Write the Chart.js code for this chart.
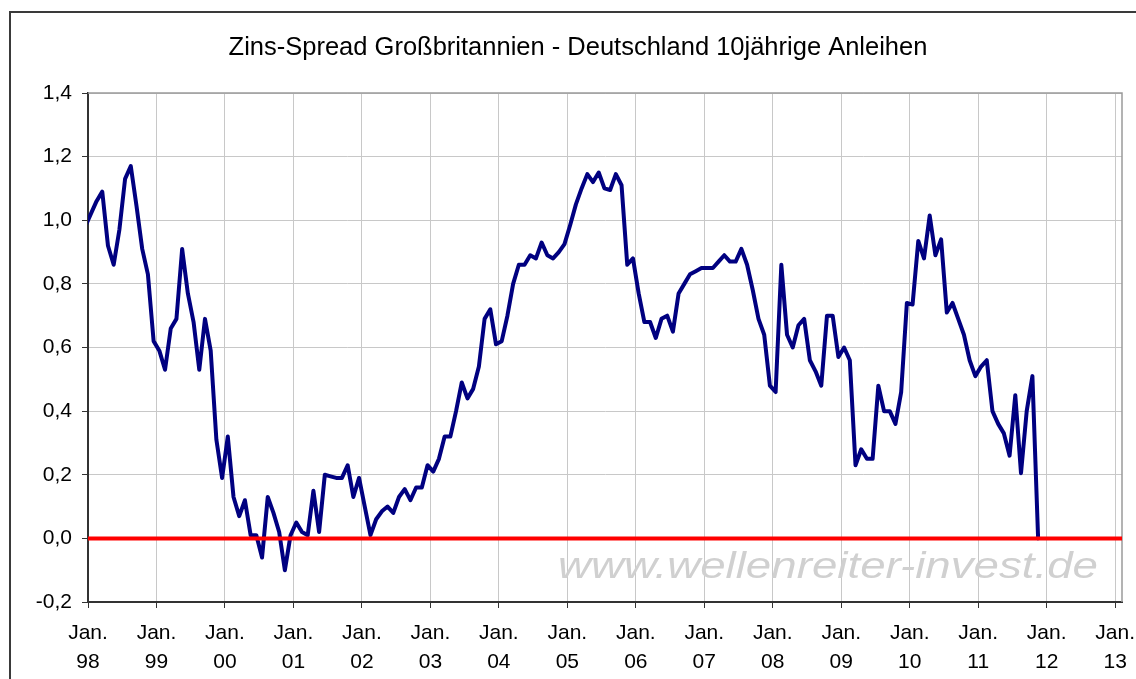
<!DOCTYPE html>
<html>
<head>
<meta charset="utf-8">
<script src="https://cdn.jsdelivr.net/npm/chart.js@4.4.0/dist/chart.umd.min.js"></script>
<style>
html,body{margin:0;padding:0;background:#fff;overflow:hidden;}
canvas{display:block;}
</style>
</head>
<body>
<canvas id="c" width="1136" height="679"></canvas>
<script>
const chartTitle = 'Zins-Spread Großbritannien - Deutschland 10jährige Anleihen';
const watermark = 'www.wellenreiter-invest.de';
const yearLabels = ['98','99','00','01','02','03','04','05','06','07','08','09','10','11','12','13'];
const yTickValues = [-0.2, 0, 0.2, 0.4, 0.6, 0.8, 1.0, 1.2, 1.4];
// monthly spread (percentage points), first entry = Dec 1997, last = Nov 2011
const spreadDec97 = [0.98];
const spread1998 = [1.02, 1.06, 1.09, 0.92, 0.86, 0.97, 1.13, 1.17, 1.045, 0.91, 0.83, 0.62];
const spread1999 = [0.59, 0.53, 0.66, 0.69, 0.91, 0.77, 0.68, 0.53, 0.69, 0.59, 0.31, 0.19];
const spread2000 = [0.32, 0.13, 0.07, 0.12, 0.01, 0.01, -0.06, 0.13, 0.08, 0.02, -0.10, 0.01];
const spread2001 = [0.05, 0.02, 0.01, 0.15, 0.02, 0.20, 0.195, 0.19, 0.19, 0.23, 0.13, 0.19];
const spread2002 = [0.10, 0.01, 0.06, 0.085, 0.10, 0.08, 0.13, 0.155, 0.12, 0.16, 0.16, 0.23];
const spread2003 = [0.21, 0.25, 0.32, 0.32, 0.40, 0.49, 0.44, 0.47, 0.54, 0.69, 0.72, 0.61];
const spread2004 = [0.62, 0.70, 0.80, 0.86, 0.86, 0.89, 0.88, 0.93, 0.89, 0.88, 0.90, 0.925];
const spread2005 = [0.985, 1.05, 1.10, 1.145, 1.12, 1.15, 1.10, 1.095, 1.145, 1.11, 0.86, 0.88];
const spread2006 = [0.77, 0.68, 0.68, 0.63, 0.69, 0.70, 0.65, 0.77, 0.80, 0.83, 0.84, 0.85];
const spread2007 = [0.85, 0.85, 0.87, 0.89, 0.87, 0.87, 0.91, 0.86, 0.78, 0.69, 0.64, 0.48];
const spread2008 = [0.46, 0.86, 0.64, 0.60, 0.67, 0.69, 0.56, 0.525, 0.48, 0.70, 0.70, 0.57];
const spread2009 = [0.60, 0.56, 0.23, 0.28, 0.25, 0.25, 0.48, 0.40, 0.40, 0.36, 0.46, 0.74];
const spread2010 = [0.735, 0.935, 0.88, 1.015, 0.89, 0.94, 0.71, 0.74, 0.69, 0.64, 0.56, 0.51];
const spread2011 = [0.54, 0.56, 0.40, 0.36, 0.33, 0.26, 0.45, 0.205, 0.40, 0.51, 0.00];

const spread = [].concat(spreadDec97, spread1998, spread1999, spread2000, spread2001, spread2002,
  spread2003, spread2004, spread2005, spread2006, spread2007, spread2008, spread2009, spread2010, spread2011);
// x = months since Jan 1998 (mid-month observations)
const spreadPoints = spread.map((v, k) => ({ x: k - 1 + 0.5, y: v }));
const X_MIN = 0, X_MAX = 181.2;
const zeroLine = [{ x: X_MIN, y: 0 }, { x: X_MAX, y: 0 }];

const FONT = '"Liberation Sans", Arial, Helvetica, sans-serif';
Chart.defaults.font.family = FONT;
Chart.defaults.color = '#000';

const decor = {
  id: 'decor',
  beforeDraw(chart) {
    const ctx = chart.ctx;
    ctx.save();
    ctx.fillStyle = '#fff';
    ctx.fillRect(0, 0, chart.width, chart.height);
    // outer frame
    ctx.strokeStyle = '#3a3a3a';
    ctx.lineWidth = 2;
    ctx.beginPath();
    ctx.moveTo(10, chart.height + 2);
    ctx.lineTo(10, 12);
    ctx.lineTo(chart.width + 2, 12);
    ctx.stroke();
    // title
    ctx.fillStyle = '#000';
    ctx.font = '25.5px ' + FONT;
    ctx.textAlign = 'center';
    ctx.textBaseline = 'alphabetic';
    ctx.fillText(chartTitle, 578, 55);
    ctx.restore();
  },
  beforeDatasetsDraw(chart) {
    const ctx = chart.ctx;
    const a = chart.chartArea;
    ctx.save();
    // watermark
    ctx.font = 'italic 37px ' + FONT;
    ctx.fillStyle = '#d0d0d0';
    ctx.textBaseline = 'alphabetic';
    ctx.textAlign = 'left';
    const w = ctx.measureText(watermark).width;
    const target = 540;
    ctx.translate(558, 578);
    ctx.scale(target / w, 1);
    ctx.fillText(watermark, 0, 0);
    ctx.restore();
    // plot area top/right border
    ctx.save();
    ctx.strokeStyle = '#9a9a9a';
    ctx.lineWidth = 1.5;
    ctx.beginPath();
    ctx.moveTo(a.left, a.top);
    ctx.lineTo(a.right, a.top);
    ctx.lineTo(a.right, a.bottom);
    ctx.stroke();
    ctx.restore();
  }
};

new Chart(document.getElementById('c'), {
  type: 'line',
  data: {
    datasets: [
      { label: 'Null', data: zeroLine, borderColor: '#ff0000', borderWidth: 4, pointRadius: 0, tension: 0 },
      { label: 'Spread', data: spreadPoints, borderColor: '#000080', borderWidth: 4, pointRadius: 0, tension: 0,
        borderJoinStyle: 'round', borderCapStyle: 'round' }
    ]
  },
  options: {
    responsive: false,
    animation: false,
    devicePixelRatio: 1,
    layout: { padding: { left: 0, right: 14, top: 93, bottom: 0 } },
    plugins: { legend: { display: false }, tooltip: { enabled: false }, title: { display: false } },
    scales: {
      x: {
        type: 'linear',
        min: X_MIN,
        max: X_MAX,
        afterBuildTicks: (s) => { s.ticks = yearLabels.map((_, k) => ({ value: k * 12 })); },
        afterFit: (s) => { s.height = 77; s.paddingLeft = 0; s.paddingRight = 0; },
        ticks: {
          autoSkip: false, maxRotation: 0, minRotation: 0, padding: 11, color: '#000',
          font: { size: 21, lineHeight: '29px' },
          callback: (v) => ['Jan.', yearLabels[Math.round(v / 12)]]
        },
        grid: { color: '#c8c8c8', lineWidth: 1, tickLength: 6, tickColor: '#333' },
        border: { color: '#333', width: 2 }
      },
      y: {
        min: -0.2,
        max: 1.4,
        afterBuildTicks: (s) => { s.ticks = yTickValues.map(v => ({ value: v })); },
        afterFit: (s) => { s.width = 88; s.paddingTop = 0; s.paddingBottom = 0; },
        ticks: {
          padding: 10, color: '#000', font: { size: 21 },
          callback: (v) => Number(v).toFixed(1).replace('.', ',')
        },
        grid: { color: '#c8c8c8', lineWidth: 1, tickLength: 6, tickColor: '#333' },
        border: { color: '#333', width: 2 }
      }
    }
  },
  plugins: [decor]
});
</script>
</body>
</html>
